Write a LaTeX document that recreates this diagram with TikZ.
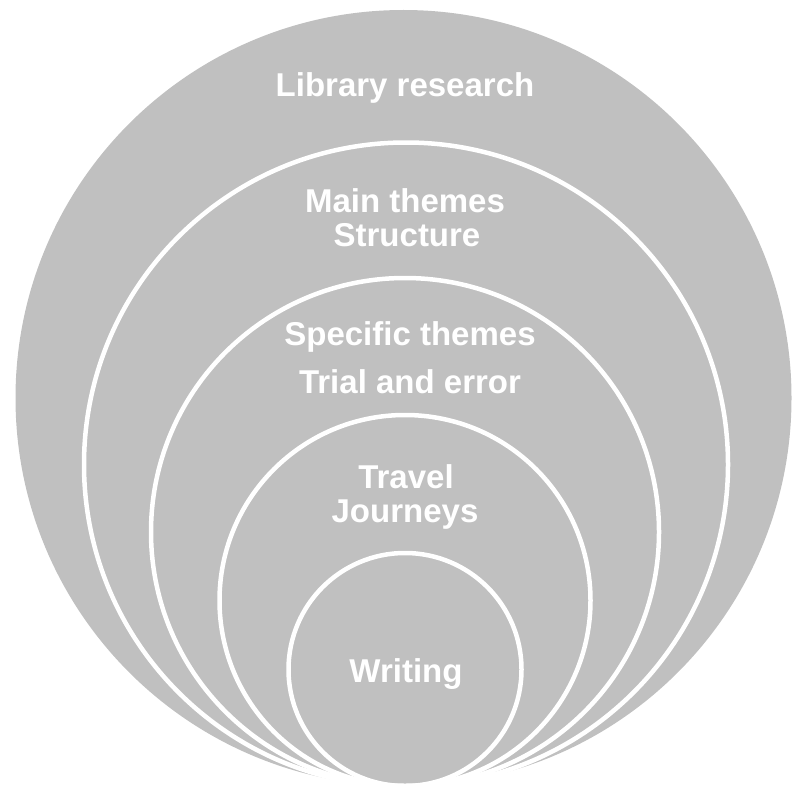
\documentclass[tikz,border=0pt]{standalone}
\usepackage{fontspec}
\setmainfont{Liberation Sans}
\tikzset{
  ring/.style={draw=white, line width=4.5pt},
  lbl/.style={text=white, anchor=base, inner sep=0pt, font=\bfseries\fontsize{33}{34}\selectfont}
}
\definecolor{halftone}{RGB}{192,192,192}
\begin{document}
\begin{tikzpicture}[x=1pt,y=-1pt]
\useasboundingbox (0,0) rectangle (794,789);
\fill[halftone] (403.5,398) circle[radius=388];
\draw[ring] (406,464.5) circle[radius=322];
\draw[ring] (405,532) circle[radius=254];
\draw[ring] (405,600.5) circle[radius=185.5];
\draw[ring] (405,669.5) circle[radius=116.5];
\node[lbl] (lib) at (405,97) {Library research};
\node[lbl] (main) at (405,212) {Main themes};
\node[lbl] (struct) at (407,246) {Structure};
\node[lbl] (spec) at (410,345) {Specific themes};
\node[lbl] (trial) at (410,393) {Trial and error};
\node[lbl] (travel) at (406,488) {Travel};
\node[lbl] (journ) at (405,522) {Journeys};
\node[lbl] (write) at (406,682) {Writing};
\end{tikzpicture}
\end{document}
